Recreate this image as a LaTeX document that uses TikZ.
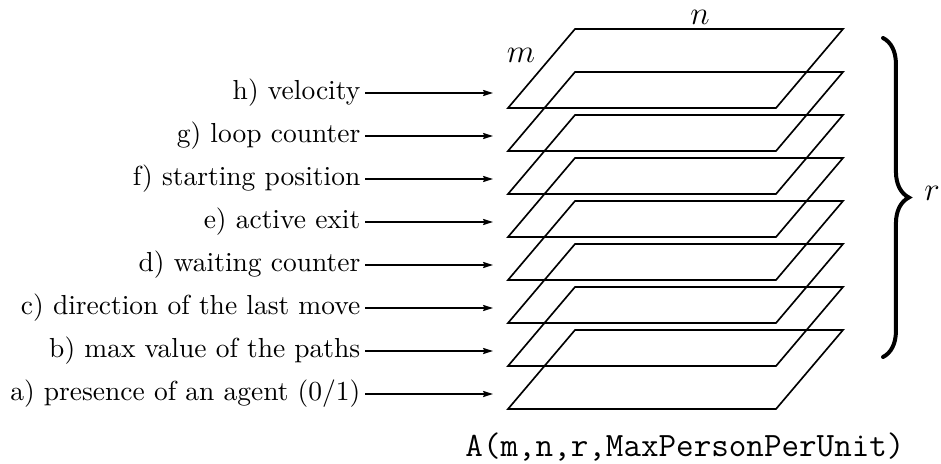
\documentclass[tikz,border=0pt]{standalone}
\usepackage{tikz}
\usetikzlibrary{arrows.meta, positioning, decorations.pathreplacing}

\begin{document}
\begin{tikzpicture}[x=0.3636pt, y=-0.3636pt,
    layer/.style={line width=0.6pt, line join=miter},
    feed/.style={line width=0.6pt, -{Stealth[length=3.6pt, width=2.2pt, inset=0.5pt]}},
    lbl/.style={anchor=east, inner xsep=1.5pt, inner ysep=0pt},
    bigbrace/.style={decorate, decoration={brace, amplitude=9.4pt},
                     line width=1.45pt, line cap=round}]
  \useasboundingbox (0,0) rectangle (941,464);

  \foreach \k/\txt in {0/{h) velocity}, 1/{g) loop counter},
                       2/{f) starting position}, 3/{e) active exit},
                       4/{d) waiting counter}, 5/{c) direction of the last move},
                       6/{b) max value of the paths}, 7/{a) presence of an agent $(0/1)$}} {
    \draw[layer] ({508},{108+43*\k}) -- ++(268,0) -- ++(67,-79) -- ++(-268,0) -- cycle;

    \node[lbl] (lbl\k) at (365,{93+43*\k}) {\txt};
    \coordinate (tip\k) at (493,{93+43*\k});
    \draw[feed] (lbl\k.east) -- (tip\k);
  }

  \node (mlab) at (521,55) {\large $m$};
  \node (nlab) at (700,17) {\large $n$};

  \coordinate (btop) at (883,38);
  \coordinate (bbot) at (883,357);
  \draw[bigbrace] (btop) -- (bbot);
  \node (rlab) at (932,193) {\large $r$};

  \node (arr) at (685,447)
    {\fontsize{12.4pt}{15pt}\selectfont\ttfamily A(m,n,r,MaxPersonPerUnit)};
\end{tikzpicture}
\end{document}
